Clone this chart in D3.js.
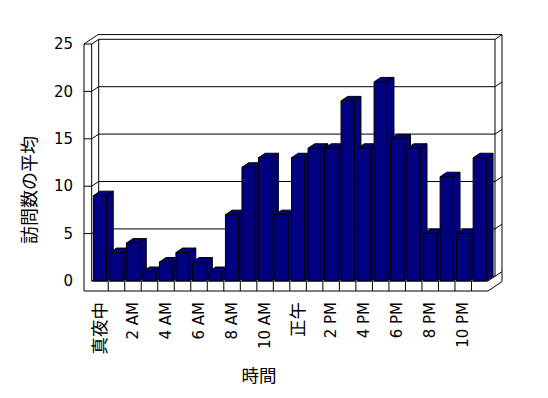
<!DOCTYPE html>
<html><head><meta charset="utf-8">
<script src="https://cdn.jsdelivr.net/npm/d3@7"></script>
<style>
html,body{margin:0;padding:0;background:#fff;}
svg{display:block;}
text{font-family:"DejaVu Sans","Noto Sans CJK JP",sans-serif;fill:#000;}
</style></head>
<body>
<svg id="chart" width="548" height="398"></svg>
<script>
const categories = ["0","1","2","3","4","5","6","7","8","9","10","11","12","13","14","15","16","17","18","19","20","21","22","23"];
const values = [9,3,4,1,2,3,2,1,7,12,13,7,13,14,14,19,14,21,15,14,5,11,5,13];
const xTickLabels = ["真夜中","2 AM","4 AM","6 AM","8 AM","10 AM","正午","2 PM","4 PM","6 PM","8 PM","10 PM"];
const yTicks = [0,5,10,15,20,25];
const yTitle = "訪問数の平均";
const xTitle = "時間";

const svg = d3.select("#chart");
const L = 91.7, R = 488, wallT = 7.7, floorT = 10;
const dx = 7, dy = -4.7;           // depth offset
const bdx = 6.7, bdy = -4.5;       // bar depth offset
const x = d3.scaleBand().domain(categories).range([L, R]).paddingInner(0.2).paddingOuter(0.1);
const y = d3.scaleLinear().domain([0, 25]).range([281, 44]);
const step = x.step();
const y0 = y(0), yTop = y(25);
const line = d3.line();
const g = svg.append("g").attr("fill", "none").attr("stroke", "#000").attr("stroke-width", 1);
const isCJK = s => /[\u3040-\u9fff]/.test(s);

// outer frame
g.append("path").attr("fill", "#fff").attr("d", line([
  [L - wallT, y0 + floorT], [R, y0 + floorT], [R + 2*dx, y0 + floorT + 2*dy],
  [R + 2*dx, yTop + 2*dy], [L - wallT + 2*dx, yTop + 2*dy], [L - wallT, yTop]
]) + "Z");
g.append("path").attr("d", line([[L, yTop], [L, y0]]));
g.append("path").attr("d", line([[L + dx, yTop + dy], [L + dx, y0 + dy]]));
g.append("path").attr("d", line([[R + dx, yTop + dy], [R + dx, y0 + dy]]));
yTicks.forEach(v => {
  const yy = y(v);
  const pts = v === 0
    ? [[L, yy], [L + dx, yy + dy], [R + dx, yy + dy], [R + 2*dx, yy + 2*dy]]
    : [[L - wallT, yy], [L, yy], [L + dx, yy + dy], [R + dx, yy + dy], [R + 2*dx, yy + 2*dy]];
  g.append("path").attr("d", line(pts));
});
g.append("path").attr("d", line([[L, y0], [R, y0], [R + dx, y0 + dy]]));
categories.forEach((c, i) => {
  if (i === 0) return;
  const xx = L + i * step;
  g.append("path").attr("d", line([[xx, y0], [xx, y0 + floorT]]));
});

// bars
const bars = svg.append("g").attr("stroke", "#000").attr("stroke-width", 1).attr("fill", "#000080").attr("stroke-linejoin", "round");
categories.forEach((c, i) => {
  const x0 = x(c), x1 = x0 + x.bandwidth(), yt = y(values[i]);
  const b = bars.append("g");
  b.append("path").attr("d", line([[x1, y0], [x1 + bdx, y0 + bdy], [x1 + bdx, yt + bdy], [x1, yt]]) + "Z");
  b.append("path").attr("d", line([[x0, yt], [x0 + bdx, yt + bdy], [x1 + bdx, yt + bdy], [x1, yt]]) + "Z");
  b.append("path").attr("d", line([[x0, y0], [x1, y0], [x1, yt], [x0, yt]]) + "Z");
});

// y tick labels
svg.append("g").selectAll("text").data(yTicks).join("text")
  .attr("x", 73).attr("y", d => y(d)).attr("dy", "0.35em")
  .attr("text-anchor", "end").attr("font-size", 15).text(d => d);

// x tick labels (every other category)
svg.append("g").selectAll("text").data(xTickLabels).join("text")
  .attr("transform", (d, i) => `translate(${x(categories[i*2]) + x.bandwidth()/2},302) rotate(-90)`)
  .attr("dy", "0.35em").attr("text-anchor", "end")
  .attr("font-size", d => isCJK(d) ? 17.5 : 15).text(d => d);

// axis titles
svg.append("text").attr("transform", "translate(30,190) rotate(-90)")
  .attr("dy", "0.35em").attr("text-anchor", "middle").attr("font-size", 18).text(yTitle);
svg.append("text").attr("x", 259).attr("y", 376).attr("dy", "0.35em")
  .attr("text-anchor", "middle").attr("font-size", 17.5).text(xTitle);
</script>
</body></html>
